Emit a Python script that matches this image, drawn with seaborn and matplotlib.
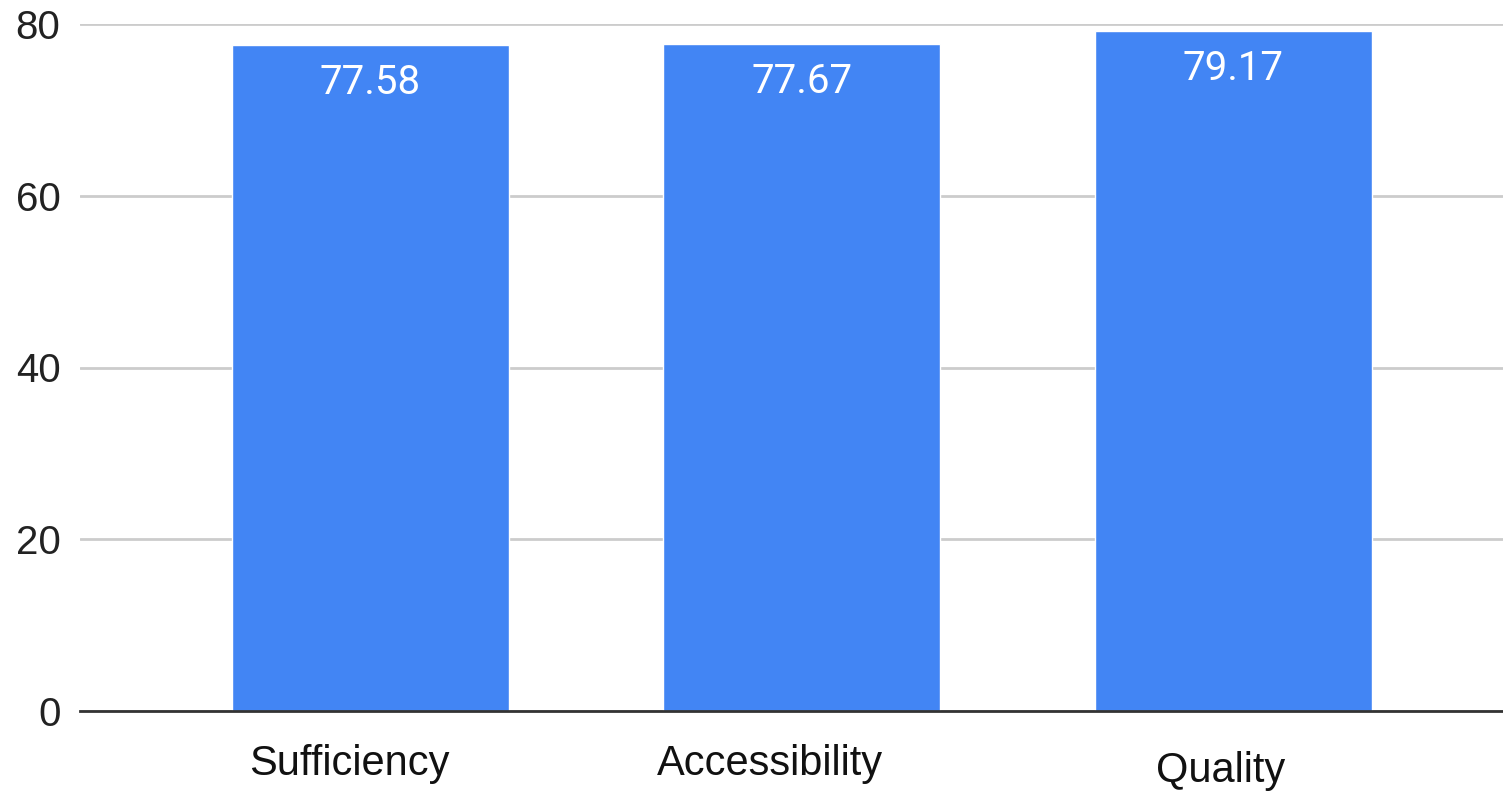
import numpy as np
import pandas as pd
import matplotlib
matplotlib.use("Agg")
import matplotlib.pyplot as plt
import matplotlib.transforms as mtransforms
import seaborn as sns

# data
categories = ["Sufficiency", "Accessibility", "Quality"]
scores = [77.58, 77.67, 79.17]
yticks = [0, 20, 40, 60, 80]

df = pd.DataFrame({"Category": categories, "Score": scores})

sns.set_style("white")
plt.rcParams["font.family"] = ["Liberation Sans", "DejaVu Sans"]

fig = plt.figure(figsize=(15.03, 7.92), dpi=100)
ax = fig.add_axes([80 / 1503, 1 - 711 / 792, 1 - 80 / 1503, 687 / 792])

sns.barplot(data=df, x="Category", y="Score", color="#4285F4", saturation=1,
            width=0.642, ax=ax, zorder=3)

ax.set_ylim(0, 80)
ax.set_xlim(-0.673, 2.625)
ax.set_yticks(yticks)
ax.yaxis.grid(True, color="#cccccc", linewidth=2, zorder=0)
ax.set_axisbelow(True)
for s in ["top", "right", "left"]:
    ax.spines[s].set_visible(False)
ax.spines["bottom"].set_color("#333333")
ax.spines["bottom"].set_linewidth(2)
ax.spines["bottom"].set_zorder(4)

ax.set_xlabel("")
ax.set_ylabel("")
ax.tick_params(axis="y", length=0, pad=14, labelsize=29, labelcolor="#222222")
ax.tick_params(axis="x", length=0, pad=24, labelsize=30, labelcolor="#111111")
ax.xaxis.get_major_ticks()[2].set_pad(29)

# category labels sit a little left of the bar centres in the original
shift_pts = [-15, -23, -9]
for lbl, dx in zip(ax.get_xticklabels(), shift_pts):
    lbl.set_transform(lbl.get_transform() +
                      mtransforms.ScaledTranslation(dx / 72, 0, fig.dpi_scale_trans))

# value labels inside the bar tops
for i, v in enumerate(scores):
    ax.annotate(f"{v:.2f}", xy=(i, v), xytext=(0, -13), textcoords="offset points",
                ha="center", va="top", color="white", fontsize=29,
                family=["Roboto", "DejaVu Sans"], zorder=5)

fig.savefig("out.png", dpi=100)
